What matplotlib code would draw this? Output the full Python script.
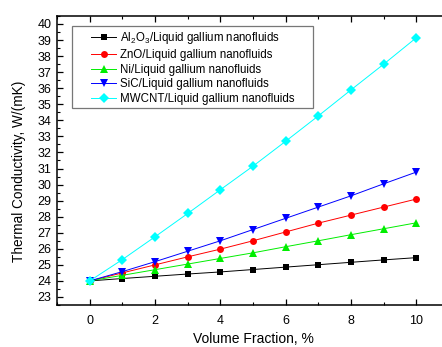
import numpy as np
import matplotlib.pyplot as plt
from matplotlib.patches import Rectangle
from matplotlib.ticker import MultipleLocator

plt.rcParams['font.family'] = ['Liberation Sans', 'DejaVu Sans']
plt.rcParams['mathtext.fontset'] = 'custom'
plt.rcParams['mathtext.rm'] = 'Liberation Sans'

# volume fraction, %
volume_fraction = [0, 1, 2, 3, 4, 5, 6, 7, 8, 9, 10]

# thermal conductivity, W/(mK)
k_al2o3 = [24.0, 24.15, 24.29, 24.43, 24.56, 24.71, 24.86, 25.01, 25.16, 25.31, 25.45]
k_zno = [24.0, 24.5, 25.0, 25.5, 25.98, 26.5, 27.05, 27.6, 28.1, 28.6, 29.1]
k_ni = [24.0, 24.35, 24.7, 25.05, 25.4, 25.75, 26.13, 26.5, 26.88, 27.25, 27.62]
k_sic = [24.0, 24.58, 25.2, 25.85, 26.5, 27.2, 27.9, 28.6, 29.3, 30.05, 30.78]
k_mwcnt = [24.0, 25.33, 26.75, 28.2, 29.68, 31.15, 32.7, 34.28, 35.9, 37.5, 39.15]

labels = [
    r'$\mathregular{Al_2O_3}$/Liquid gallium nanofluids',
    'ZnO/Liquid gallium nanofluids',
    'Ni/Liquid gallium nanofluids',
    'SiC/Liquid gallium nanofluids',
    'MWCNT/Liquid gallium nanofluids',
]


def main():
    fig = plt.figure(figsize=(4.42, 3.47), dpi=100)
    # right edge of the frame sits just outside the picture, as in the source
    ax = fig.add_axes([0.129, 0.121, 0.887, 0.833])

    series = [k_al2o3, k_zno, k_ni, k_sic, k_mwcnt]
    colors = ['black', 'red', '#00ee00', 'blue', 'cyan']
    markers = ['s', 'o', '^', 'v', 'D']
    sizes = [4.5, 5, 5.5, 5.5, 4.8]

    for ys, c, m, ms, lab in zip(series, colors, markers, sizes, labels):
        ax.plot(volume_fraction, ys, color=c, marker=m, markersize=ms,
                linewidth=0.7, markeredgewidth=0, label=lab)

    ax.set_xlim(-1, 11)
    ax.set_ylim(22.5, 40.5)
    ax.xaxis.set_major_locator(MultipleLocator(2))
    ax.xaxis.set_minor_locator(MultipleLocator(1))
    ax.yaxis.set_major_locator(MultipleLocator(1))
    ax.yaxis.set_minor_locator(MultipleLocator(0.5))

    ax.tick_params(axis='both', which='major', direction='out', length=4,
                   width=0.9, labelsize=9)
    ax.tick_params(axis='both', which='minor', direction='out', length=2,
                   width=0.8)
    ax.tick_params(axis='x', which='major', pad=7)
    ax.tick_params(axis='y', which='major', pad=4)
    ax.tick_params(top=True, which='both', direction='in')
    ax.tick_params(axis='x', which='both', bottom=True)

    for sp in ax.spines.values():
        sp.set_linewidth(1.1)

    ax.set_xlabel('Volume Fraction, %', fontsize=10)
    ax.xaxis.set_label_coords(0.5, -0.093)
    ax.set_ylabel('Thermal Conductivity, W/(mK)', fontsize=9.8)
    ax.yaxis.set_label_coords(-0.078, 0.464)

    # legend frame drawn by hand (wider side margins than matplotlib gives)
    ax.add_patch(Rectangle((0.0383, 0.682), 0.615, 0.283,
                           transform=ax.transAxes, facecolor='white',
                           edgecolor='#777777', linewidth=0.9, zorder=4))
    leg = ax.legend(loc='upper left', bbox_to_anchor=(0.0867, 0.952),
                    fontsize=8.3, frameon=False, borderpad=0,
                    handlelength=2.2, handletextpad=0.3, labelspacing=0.25,
                    borderaxespad=0)
    leg.set_zorder(5)

    plt.savefig('out.png', dpi=100)


if __name__ == '__main__':
    main()
